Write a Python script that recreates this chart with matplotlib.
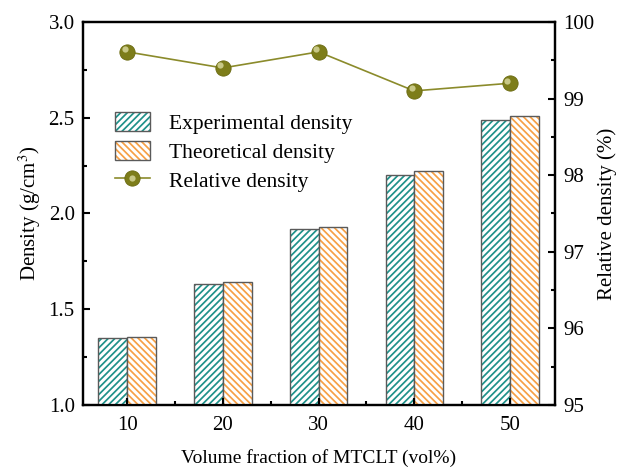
import matplotlib
matplotlib.use("Agg")
import matplotlib.pyplot as plt
import numpy as np
from matplotlib.patches import Patch
from matplotlib.lines import Line2D
from matplotlib.legend_handler import HandlerTuple
from matplotlib.ticker import MultipleLocator, FixedLocator
import matplotlib.transforms as mtransforms

plt.rcParams['font.family'] = ['Liberation Serif', 'DejaVu Serif']
plt.rcParams['hatch.linewidth'] = 1.25
plt.rcParams['mathtext.fontset'] = 'stix'

categories = ['10', '20', '30', '40', '50']
experimental = [1.348, 1.632, 1.921, 2.199, 2.488]
theoretical = [1.353, 1.642, 1.931, 2.220, 2.511]
relative = [99.61, 99.40, 99.61, 99.10, 99.20]

teal = '#1e918a'
orange = '#f7a045'
olive = '#7d7d1a'
linecol = '#8b8b2b'
edge = '#5a5a5a'
hatch_e = '/////'
hatch_t = '\\\\\\\\\\'

fig = plt.figure(figsize=(6.2, 4.68), dpi=100)
ax = fig.add_axes([0.134, 0.135, 0.761, 0.818])
x = np.arange(len(categories))
w = 0.30

ax.bar(x - w/2, experimental, w, color='white', edgecolor=teal, hatch=hatch_e, linewidth=0)
ax.bar(x - w/2, experimental, w, fill=False, edgecolor=edge, linewidth=1.0)
ax.bar(x + w/2, theoretical, w, color='white', edgecolor=orange, hatch=hatch_t, linewidth=0)
ax.bar(x + w/2, theoretical, w, fill=False, edgecolor=edge, linewidth=1.0)

ax.set_ylim(1.0, 3.0)
ax.set_xlim(-0.46, 4.47)
ax.set_xticks(x)
ax.set_xticklabels(categories)
ax.xaxis.set_minor_locator(FixedLocator(x[:-1] + 0.5))
ax.yaxis.set_major_locator(MultipleLocator(0.5))
ax.yaxis.set_minor_locator(MultipleLocator(0.25))
ax.tick_params(axis='both', which='both', direction='in', top=False, labelsize=15, width=1.5)
ax.tick_params(which='major', length=5, pad=6)
ax.tick_params(axis='x', which='major', pad=8)
ax.tick_params(which='minor', length=3)
ax.set_ylabel('Density (g/cm$^3$)', fontsize=15, labelpad=4)
ax.set_xlabel('Volume fraction of MTCLT (vol%)', fontsize=14, labelpad=10)
for s in ax.spines.values():
    s.set_linewidth(1.6)

ax2 = ax.twinx()
ax2.plot(x, relative, '-', color=linecol, linewidth=1.2, marker='o', markersize=11,
         markerfacecolor=olive, markeredgecolor='#6a6a10', markeredgewidth=0.6)
hl = mtransforms.offset_copy(ax2.transData, fig=fig, x=-1.8, y=1.8, units='points')
ax2.plot(x, relative, 'o', color='#c8c886', markersize=4.5, markeredgewidth=0, transform=hl)
ax2.set_ylim(95, 100)
ax2.yaxis.set_major_locator(MultipleLocator(1))
ax2.yaxis.set_minor_locator(MultipleLocator(0.5))
ax2.tick_params(axis='y', which='both', direction='in', labelsize=15, width=1.5)
ax2.tick_params(which='major', length=5, pad=6)
ax2.tick_params(which='minor', length=3)
ax2.set_ylabel('Relative density (%)', fontsize=15, labelpad=2)
for s in ax2.spines.values():
    s.set_linewidth(1.6)

h_exp = (Patch(facecolor='white', edgecolor=teal, hatch=hatch_e, linewidth=0),
         Patch(fill=False, edgecolor=edge, linewidth=1.0))
h_the = (Patch(facecolor='white', edgecolor=orange, hatch=hatch_t, linewidth=0),
         Patch(fill=False, edgecolor=edge, linewidth=1.0))
h_rel = (Line2D([], [], color=linecol, linewidth=1.2, marker='o', markersize=11,
                markerfacecolor=olive, markeredgecolor='#6a6a10', markeredgewidth=0.6),
         Line2D([], [], color='none', marker='o', markersize=4.5,
                markerfacecolor='#c8c886', markeredgewidth=0))
labels = ['Experimental density', 'Theoretical density', 'Relative density']
leg = ax.legend([h_exp, h_the, h_rel], labels, loc='upper left', bbox_to_anchor=(0.068, 0.765),
                frameon=False, fontsize=15.5, handlelength=1.6, handleheight=1.0,
                handletextpad=0.9, labelspacing=0.32, borderaxespad=0, borderpad=0,
                handler_map={tuple: HandlerTuple(ndivide=1, pad=0)})
ax.set_zorder(ax2.get_zorder() + 1)
ax.patch.set_visible(False)
fig.savefig('out.png', dpi=100)
